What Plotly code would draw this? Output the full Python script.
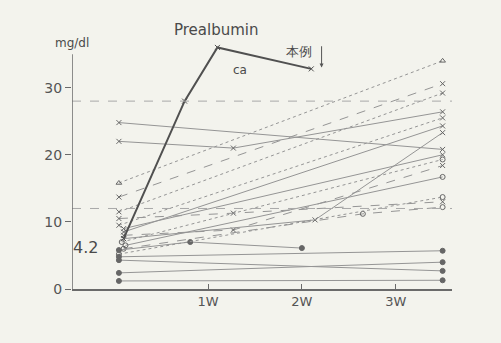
import plotly.graph_objects as go

# Prealbumin case line (weeks, mg/dl)
case_x = [0.1, 0.75, 1.1, 2.1]
case_y = [7.5, 28.0, 36.0, 32.8]

# Individual patient series: (weeks, values, marker symbol, dash)
series_x = [
    [0.05, 3.5], [0.05, 1.27, 3.5], [0.05, 3.5], [0.05, 3.5], [0.05, 3.5],
    [0.05, 1.27, 3.5], [0.05, 3.5], [0.1, 3.5], [0.1, 1.27, 3.5], [0.1, 2.14, 3.5],
    [0.12, 3.5], [0.1, 2.65, 3.5], [0.05, 0.81, 2.0], [0.05, 3.5], [0.05, 3.5],
    [0.05, 3.5], [0.05, 3.5], [0.05, 3.5], [0.08, 3.5], [0.1, 3.5],
]
series_y = [
    [24.8, 20.8], [22.0, 21.0, 26.4], [15.8, 34.0], [13.7, 30.6], [11.5, 29.2],
    [10.5, 11.3, 13.0], [9.5, 25.5], [8.5, 24.3], [8.0, 8.8, 18.4], [7.5, 10.3, 23.3],
    [6.5, 16.7], [6.0, 11.2, 12.2], [5.8, 7.0, 6.1], [5.2, 13.7], [4.8, 5.7],
    [4.3, 2.7], [2.4, 4.0], [1.2, 1.3], [7.0, 19.3], [9.0, 20.0],
]
series_sym = [
    "x-thin", "x-thin", "triangle-up-open", "x-thin", "x-thin",
    "x-thin", "x-thin", "x-thin", "x-thin", "x-thin",
    "circle-open", "circle-open", "circle", "circle-open", "circle",
    "circle", "circle", "circle", "circle-open", "x-thin",
]
series_dash = [
    "solid", "solid", "dot", "dash", "dot",
    "dash", "dot", "solid", "dash", "solid",
    "solid", "dash", "solid", "dot", "solid",
    "solid", "solid", "solid", "dot", "solid",
]

ref_levels = [28, 12]
y_ticks = [0, 10, 20, 30]
x_ticks = [1, 2, 3]
x_labels = ["1W", "2W", "3W"]

ink = "#6a6a6a"
bg = "#f3f3ed"
fig = go.Figure()

for xs, ys, sym, dsh in zip(series_x, series_y, series_sym, series_dash):
    fig.add_trace(go.Scatter(
        x=xs, y=ys, mode="lines+markers",
        line=dict(color="#959595", width=1, dash=dsh),
        marker=dict(symbol=sym, size=5, color="#666666",
                    line=dict(color="#666666", width=1)),
        showlegend=False, hoverinfo="skip"))

fig.add_trace(go.Scatter(
    x=case_x, y=case_y, mode="lines+markers",
    line=dict(color="#505050", width=2),
    marker=dict(symbol="x-thin", size=5, line=dict(color="#505050", width=1)),
    showlegend=False, hoverinfo="skip"))

for lv in ref_levels:
    fig.add_shape(type="line", xref="x", yref="y", x0=-0.45, x1=3.6, y0=lv, y1=lv,
                  line=dict(color="#a8a8a8", width=1, dash="dash"))

# y axis line (stops below the case peak)
fig.add_shape(type="line", xref="x", yref="y", x0=-0.45, x1=-0.45, y0=0, y1=35,
              line=dict(color=ink, width=1.5))

font = "DejaVu Sans"
paper_anns = [
    dict(x=0.0, y=0.965, text="mg/dl", size=12),
    dict(x=0.38, y=1.016, text="Prealbumin", size=15),
]
for a in paper_anns:
    fig.add_annotation(x=a["x"], y=a["y"], xref="paper", yref="paper", text=a["text"],
                       xanchor="center", yanchor="middle",
                       showarrow=False, font=dict(family=font, size=a["size"], color="#4a4a4a"))

data_anns = [
    dict(x=-0.31, y=6.2, text="4.2", size=16),
    dict(x=1.34, y=32.7, text="ca", size=12),
    dict(x=1.97, y=35.4, text="本例", size=13),
]
for a in data_anns:
    fig.add_annotation(x=a["x"], y=a["y"], xref="x", yref="y", text=a["text"],
                       xanchor="center", yanchor="middle",
                       showarrow=False, font=dict(family=font, size=a["size"], color="#4a4a4a"))
fig.add_annotation(x=2.21, y=33.0, ax=2.21, ay=36.4, xref="x", yref="y", axref="x", ayref="y",
                   text="", showarrow=True, arrowhead=2, arrowsize=0.8, arrowwidth=1,
                   arrowcolor="#555")

fig.update_layout(
    width=501, height=343,
    margin=dict(l=72, r=49, t=34, b=54),
    paper_bgcolor=bg,
    plot_bgcolor=bg,
    xaxis=dict(range=[-0.45, 3.6], tickvals=x_ticks, ticktext=x_labels,
               showgrid=False, zeroline=False, showline=True, linecolor=ink, linewidth=1.5,
               ticks="inside", ticklen=5, tickcolor=ink,
               tickfont=dict(family=font, size=13, color="#555")),
    yaxis=dict(range=[0, 38], tickvals=y_ticks, showgrid=False, zeroline=False,
               showline=False, ticks="outside", ticklen=6, tickcolor=ink,
               tickfont=dict(family=font, size=14, color="#555")),
)

fig.write_html("out.html", config={"displayModeBar": False},
               post_script="document.body.style.margin='0';document.body.style.background='%s';" % bg)
